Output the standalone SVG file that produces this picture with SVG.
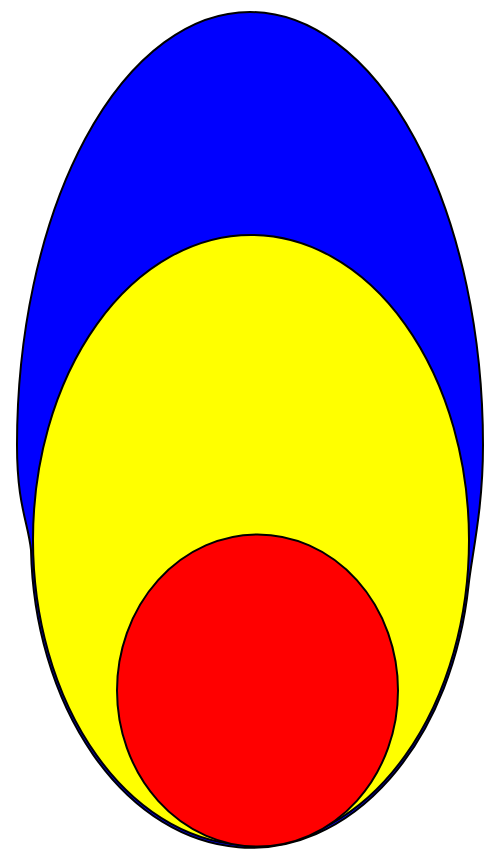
<svg xmlns="http://www.w3.org/2000/svg" width="488" height="854" viewBox="0 0 488 854">
<style>.o{stroke:#000;stroke-width:2}</style>
<rect width="488" height="854" fill="#fff"/>
<g id="blue"><path class="o" fill="#0000ff" d="M31,550 C28,522 17,505 17,445 A233,433 0 0 1 483,445 C483,510 471.8,555 468.6,585 A220,307 0 0 1 31,550 Z"/></g>
<g id="yellow"><ellipse class="o" cx="251" cy="540" rx="218" ry="305" fill="#ffff00"/></g>
<g id="red"><ellipse class="o" cx="257.5" cy="690.5" rx="140.5" ry="156" fill="#ff0000"/></g>
</svg>
